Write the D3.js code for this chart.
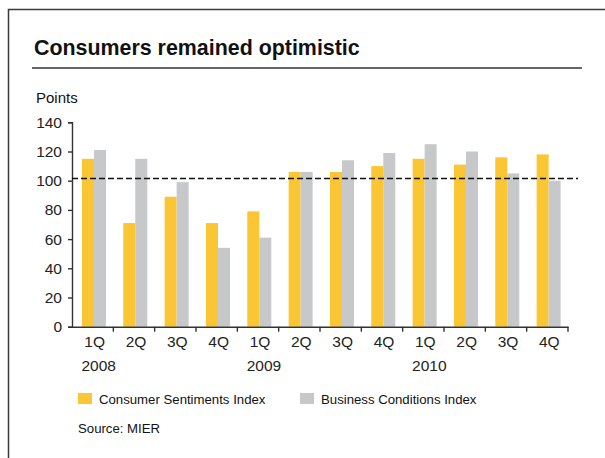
<!DOCTYPE html>
<html>
<head>
<meta charset="utf-8">
<script src="https://cdn.jsdelivr.net/npm/d3@7"></script>
<style>
  body { margin: 0; background: #fff; }
  svg { display: block; font-family: "Liberation Sans", Arial, sans-serif; }
</style>
</head>
<body>
<div id="chart"></div>
<script>
const quarters = ['1Q', '2Q', '3Q', '4Q', '1Q', '2Q', '3Q', '4Q', '1Q', '2Q', '3Q', '4Q'];
const years = ['2008', '', '', '', '2009', '', '', '', '2010', '', '', ''];
const consumer = [115, 71, 89, 71, 79, 106, 106, 110, 115, 111, 116, 118];
const business = [121, 115, 99, 54, 61, 106, 114, 119, 125, 120, 105, 100];
const yTicks = [0, 20, 40, 60, 80, 100, 120, 140];
const threshold = 101.5;
const seriesNames = ['Consumer Sentiments Index', 'Business Conditions Index'];
const colors = ['#fbc633', '#c7c8ca'];

const w = 605;
const h = 458;

const svg = d3.select('#chart')
    .append('svg')
    .attr('width', w)
    .attr('height', h);

// frame
svg.append('path')
    .attr('d', 'M8.5,' + h + 'V9.5H' + w)
    .attr('fill', 'none')
    .attr('stroke', '#3a3a3a')
    .attr('stroke-width', 1.5);

svg.append('text')
    .attr('x', 34)
    .attr('y', 55)
    .attr('font-size', 21.4)
    .attr('font-weight', 'bold')
    .attr('fill', '#111')
    .text('Consumers remained optimistic');

svg.append('line')
    .attr('x1', 32).attr('x2', 582)
    .attr('y1', 68).attr('y2', 68)
    .attr('stroke', '#333')
    .attr('stroke-width', 1.3);

svg.append('text')
    .attr('x', 36)
    .attr('y', 103)
    .attr('font-size', 15)
    .attr('fill', '#111')
    .text('Points');

const idx = d3.range(quarters.length);

const xScale = d3.scaleBand()
    .domain(idx)
    .range([72, 568]);

const xInner = d3.scaleBand()
    .domain([0, 1])
    .range([0, 24]);

const yScale = d3.scaleLinear()
    .domain([0, 140])
    .range([326.7, 122.3]);

const bw = xScale.bandwidth();
const groups = svg.append('g')
    .selectAll('g')
    .data(idx)
    .enter()
    .append('g')
    .attr('transform', i => 'translate(' + (xScale(i) + (bw - 24) / 2 + 1.3) + ',0)');

groups.selectAll('rect')
    .data(i => [consumer[i], business[i]])
    .enter()
    .append('rect')
    .attr('x', (d, j) => xInner(j))
    .attr('width', xInner.bandwidth())
    .attr('y', d => yScale(d))
    .attr('height', d => yScale(0) - yScale(d))
    .attr('fill', (d, j) => colors[j]);

// y axis
const yAxis = d3.axisLeft(yScale)
    .tickValues(yTicks)
    .tickSize(4)
    .tickPadding(6);

const yg = svg.append('g')
    .attr('transform', 'translate(72,0)')
    .call(yAxis);
yg.selectAll('text').attr('font-size', 15.5).attr('fill', '#222').attr('font-family', null);
yg.selectAll('line, path').attr('stroke', '#333').attr('stroke-width', 1.4);

// x axis
const xAxis = d3.axisBottom(xScale)
    .tickSize(0)
    .tickFormat(i => quarters[i])
    .tickPadding(9);

const xg = svg.append('g')
    .attr('transform', 'translate(0,326.7)')
    .call(xAxis);
xg.selectAll('text').attr('font-size', 15.5).attr('fill', '#222').attr('font-family', null)
    .attr('dx', 2);
xg.select('path.domain').attr('stroke', '#333').attr('stroke-width', 1.4);

xg.selectAll('line.sep')
    .data(d3.range(1, quarters.length + 1))
    .enter()
    .append('line')
    .attr('class', 'sep')
    .attr('x1', i => xScale.range()[0] + i * bw)
    .attr('x2', i => xScale.range()[0] + i * bw)
    .attr('y1', 0).attr('y2', 5)
    .attr('stroke', '#333')
    .attr('stroke-width', 1.4);

xg.selectAll('text.year')
    .data(idx.filter(i => years[i]))
    .enter()
    .append('text')
    .attr('class', 'year')
    .attr('x', i => xScale(i) + bw / 2 + 6)
    .attr('y', 44)
    .attr('text-anchor', 'middle')
    .attr('font-size', 15.5)
    .attr('fill', '#222')
    .text(i => years[i]);

// reference line
svg.append('line')
    .attr('x1', 72).attr('x2', 578)
    .attr('y1', yScale(threshold)).attr('y2', yScale(threshold))
    .attr('stroke', '#111')
    .attr('stroke-width', 1.3)
    .attr('stroke-dasharray', '6,3');

// legend
const legendX = [78, 300];
const legend = svg.append('g')
    .selectAll('g')
    .data(seriesNames)
    .enter()
    .append('g')
    .attr('transform', (d, i) => 'translate(' + legendX[i] + ',393)');

legend.append('rect')
    .attr('width', 14)
    .attr('height', 11)
    .attr('fill', (d, i) => colors[i]);

legend.append('text')
    .attr('x', 21)
    .attr('y', 11)
    .attr('font-size', 13.2)
    .attr('fill', '#111')
    .text(d => d);

svg.append('text')
    .attr('x', 78)
    .attr('y', 433)
    .attr('font-size', 13.2)
    .attr('fill', '#111')
    .text('Source: MIER');
</script>
</body>
</html>
